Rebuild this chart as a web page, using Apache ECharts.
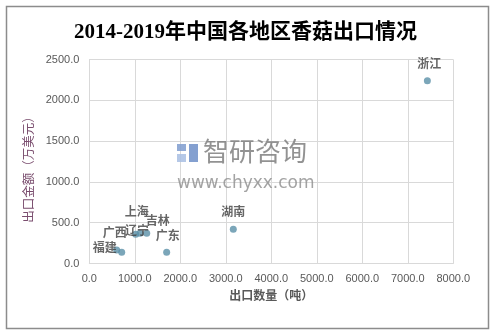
<!DOCTYPE html>
<html>
<head>
<meta charset="utf-8">
<script src="https://cdn.jsdelivr.net/npm/echarts@6/dist/echarts.min.js"></script>
<style>
  html, body { margin: 0; padding: 0; background: #fff; }
  #chart { width: 491px; height: 332px; }
</style>
</head>
<body>
<div id="chart"></div>
<script>
// Shiitake mushroom exports by province, 2014-2019
const regions = ['浙江', '湖南', '广东', '吉林', '上海', '辽宁', '广西', '福建'];
const exportTons = [7430, 3165, 1700, 1262, 1020, 1114, 602, 712];     // 出口数量（吨）
const exportValue = [2240, 419, 137, 370, 358, 370, 165, 137];         // 出口金额（万美元）
const xTicks = [0, 1000, 2000, 3000, 4000, 5000, 6000, 7000, 8000];
const yTicks = [0, 500, 1000, 1500, 2000, 2500];

// label nudges so crowded names stay readable
const labelOffset = {
  '浙江': [2, -3], '湖南': [0, -3], '广东': [1, -2], '吉林': [11, 2],
  '上海': [1, -8], '辽宁': [-3, 12], '广西': [-2, -3], '福建': [-17, 10]
};

const points = regions.map((name, i) => ({
  name: name,
  value: [exportTons[i], exportValue[i]],
  label: { offset: labelOffset[name] }
}));

const chart = echarts.init(document.getElementById('chart'));
const gridLeft = 89.3, gridTop = 59.5, gridRight = 37.7, gridBottom = 68.5;

chart.setOption({
  backgroundColor: '#ffffff',
  animation: false,
  title: {
    text: '2014-2019年中国各地区香菇出口情况',
    left: 'center',
    top: 17,
    textStyle: {
      fontFamily: "'Liberation Serif', 'Noto Sans CJK SC', serif",
      fontSize: 21,
      fontWeight: 'bold',
      color: '#000000'
    }
  },
  grid: { left: gridLeft, top: gridTop, right: gridRight, bottom: gridBottom },
  xAxis: {
    type: 'value',
    min: xTicks[0],
    max: xTicks[xTicks.length - 1],
    interval: xTicks[1] - xTicks[0],
    name: '出口数量（吨）',
    nameLocation: 'middle',
    nameGap: 23,
    nameTextStyle: { fontFamily: 'Noto Sans CJK SC', fontSize: 12, fontWeight: 'bold', color: '#595959' },
    axisLine: { show: true, lineStyle: { color: '#d9d9d9' } },
    axisTick: { show: false },
    splitLine: { show: true, lineStyle: { color: '#d9d9d9' } },
    axisLabel: {
      margin: 10,
      fontFamily: "'Liberation Sans', 'Noto Sans CJK SC'",
      fontSize: 11,
      color: '#595959',
      formatter: v => v.toFixed(1)
    }
  },
  yAxis: {
    type: 'value',
    min: yTicks[0],
    max: yTicks[yTicks.length - 1],
    interval: yTicks[1] - yTicks[0],
    name: '出口金额（万美元）',
    nameLocation: 'middle',
    nameGap: 47,
    nameRotate: 90,
    nameTextStyle: { fontFamily: 'Noto Sans CJK SC', fontSize: 12.5, color: '#7a4d6e', padding: [0, 10, 0, 0] },
    axisLine: { show: true, lineStyle: { color: '#d9d9d9' } },
    axisTick: { show: false },
    splitLine: { show: true, lineStyle: { color: '#d9d9d9' } },
    axisLabel: {
      margin: 10,
      fontFamily: "'Liberation Sans', 'Noto Sans CJK SC'",
      fontSize: 11,
      color: '#595959',
      formatter: v => v.toFixed(1)
    }
  },
  graphic: [
    // outer frame
    { type: 'rect', left: 4, top: 4, shape: { width: 482, height: 322 },
      style: { fill: 'none', stroke: '#8c8c8c', lineWidth: 1.5 }, z: 100 },
    // brand watermark
    { type: 'rect', left: 177, top: 144, shape: { width: 9, height: 7 }, style: { fill: '#7f9ccf', opacity: 0.85 }, z: 1 },
    { type: 'rect', left: 177, top: 154, shape: { width: 9, height: 8 }, style: { fill: '#a8bee3', opacity: 0.85 }, z: 1 },
    { type: 'rect', left: 189, top: 144, shape: { width: 9, height: 18 }, style: { fill: '#6f8fc8', opacity: 0.85 }, z: 1 },
    { type: 'text', left: 203, top: 138,
      style: { text: '智研咨询', font: '26px "Noto Sans CJK SC"', fill: '#7f7f7f', opacity: 0.85 }, z: 1 },
    { type: 'text', left: 177, top: 175,
      style: { text: 'www.chyxx.com', font: '17px "DejaVu Sans"', fill: '#8c8c8c', opacity: 0.8 }, z: 1 }
  ],
  series: [{
    type: 'scatter',
    symbol: 'circle',
    symbolSize: 7,
    itemStyle: { color: '#5a90a8' },
    label: {
      show: true,
      position: 'top',
      formatter: p => p.name,
      fontFamily: 'Noto Sans CJK SC',
      fontSize: 12,
      fontWeight: 'bold',
      color: '#404040'
    },
    data: points,
    z: 5
  }]
});
</script>
</body>
</html>
